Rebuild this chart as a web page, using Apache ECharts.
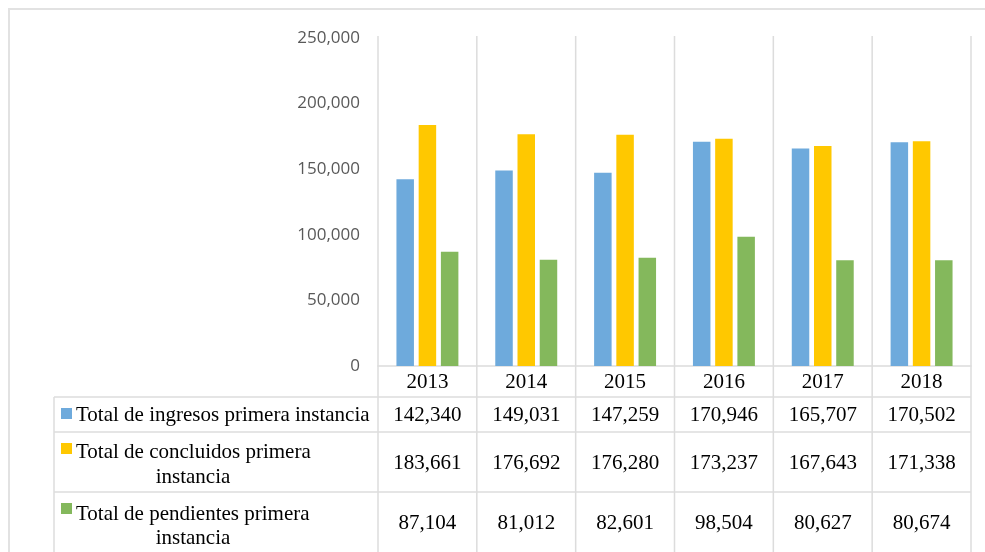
<!DOCTYPE html>
<html>
<head>
<meta charset="utf-8">
<script src="https://cdn.jsdelivr.net/npm/echarts@6/dist/echarts.min.js"></script>
<style>
  html, body { margin: 0; padding: 0; background: #ffffff; }
  #chart { width: 985px; height: 552px; }
</style>
</head>
<body>
<div id="chart"></div>
<script>
// Años y totales de expedientes en primera instancia
const years = ['2013', '2014', '2015', '2016', '2017', '2018'];
const ingresos = [142340, 149031, 147259, 170946, 165707, 170502];
const concluidos = [183661, 176692, 176280, 173237, 167643, 171338];
const pendientes = [87104, 81012, 82601, 98504, 80627, 80674];

const seriesNames = [
  'Total de ingresos primera instancia',
  'Total de concluidos primera instancia',
  'Total de pendientes primera instancia'
];
// Texto de cada fila de la tabla, con el corte de línea
const rowLabelLines = [
  ['Total de ingresos primera instancia'],
  ['Total de concluidos primera', 'instancia'],
  ['Total de pendientes primera', 'instancia']
];
const colors = ['#6eaadc', '#ffc800', '#84b85c'];

const fmt = v => v.toLocaleString('en-US');
const serif = '"Liberation Serif", "Times New Roman", serif';
const lineColor = '#dcdcdc';
const tableFontSize = 21;

const chart = echarts.init(document.getElementById('chart'), null, { renderer: 'canvas' });

const baseOption = {
  animation: false,
  backgroundColor: '#ffffff',
  grid: { left: 378, right: 14, top: 38, bottom: 186, containLabel: false },
  xAxis: {
    type: 'category',
    data: years,
    axisLine: { show: true, lineStyle: { color: lineColor, width: 1.5 } },
    axisTick: { show: false },
    splitLine: { show: false },
    axisLabel: {
      margin: 6,
      color: '#000000',
      fontFamily: serif,
      fontSize: tableFontSize
    }
  },
  yAxis: {
    type: 'value',
    min: 0,
    max: 250000,
    interval: 50000,
    axisLine: { show: false },
    axisTick: { show: false },
    splitLine: { show: false },
    axisLabel: {
      margin: 18,
      color: '#595959',
      fontFamily: '"Open Sans", sans-serif',
      fontSize: 17,
      formatter: v => fmt(v)
    }
  },
  series: [ingresos, concluidos, pendientes].map((d, i) => ({
    name: seriesNames[i],
    type: 'bar',
    data: d,
    barWidth: 17.5,
    barGap: '27%',
    itemStyle: { color: colors[i] }
  }))
};

chart.setOption(baseOption);

// Tabla de datos bajo el eje, alineada con las categorías
function buildTable() {
  const centers = years.map(y => chart.convertToPixel({ xAxisIndex: 0 }, y));
  const band = centers[1] - centers[0];
  const bounds = centers.map(c => c - band / 2).concat([centers[centers.length - 1] + band / 2]);
  const tableLeft = 54;
  const tableRight = bounds[bounds.length - 1];
  const rowLines = [397, 432, 492];
  const rowValueY = [415, 463, 523];
  const labelY = [[415], [452, 477], [514, 538]];
  const squareY = [408, 443, 503];
  const data = [ingresos, concluidos, pendientes];

  const els = [];
  // Marco exterior
  els.push({ type: 'line', shape: { x1: 8, y1: 9, x2: 985, y2: 9 }, style: { stroke: '#e2e2e2', lineWidth: 2 } });
  els.push({ type: 'line', shape: { x1: 9, y1: 8, x2: 9, y2: 552 }, style: { stroke: '#e2e2e2', lineWidth: 2 } });

  // Separadores verticales de categorías
  bounds.forEach(x => {
    els.push({ type: 'line', shape: { x1: x, y1: 36, x2: x, y2: 552 }, style: { stroke: lineColor, lineWidth: 1.5 } });
  });
  // Borde izquierdo de la tabla
  els.push({ type: 'line', shape: { x1: tableLeft, y1: rowLines[0], x2: tableLeft, y2: 552 }, style: { stroke: lineColor, lineWidth: 1.5 } });
  // Líneas horizontales de la tabla
  rowLines.forEach(y => {
    els.push({ type: 'line', shape: { x1: tableLeft, y1: y, x2: tableRight, y2: y }, style: { stroke: lineColor, lineWidth: 1.5 } });
  });

  data.forEach((row, r) => {
    // Marcador de color
    els.push({ type: 'rect', shape: { x: 61, y: squareY[r], width: 11, height: 11 }, style: { fill: colors[r] } });
    // Nombre de la serie
    rowLabelLines[r].forEach((txt, k) => {
      els.push({
        type: 'text',
        style: {
          text: txt,
          x: k === 0 ? 76 : 193,
          y: labelY[r][k],
          fill: '#000000',
          fontFamily: serif,
          fontSize: tableFontSize,
          textAlign: k === 0 ? 'left' : 'center',
          align: k === 0 ? 'left' : 'center',
          textVerticalAlign: 'middle',
          verticalAlign: 'middle'
        }
      });
    });
    // Valores
    row.forEach((v, i) => {
      els.push({
        type: 'text',
        style: {
          text: fmt(v),
          x: centers[i],
          y: rowValueY[r],
          fill: '#000000',
          fontFamily: serif,
          fontSize: tableFontSize,
          textAlign: 'center',
          align: 'center',
          textVerticalAlign: 'middle',
          verticalAlign: 'middle'
        }
      });
    });
  });

  chart.setOption({ graphic: { elements: els } });
}

buildTable();
</script>
</body>
</html>
